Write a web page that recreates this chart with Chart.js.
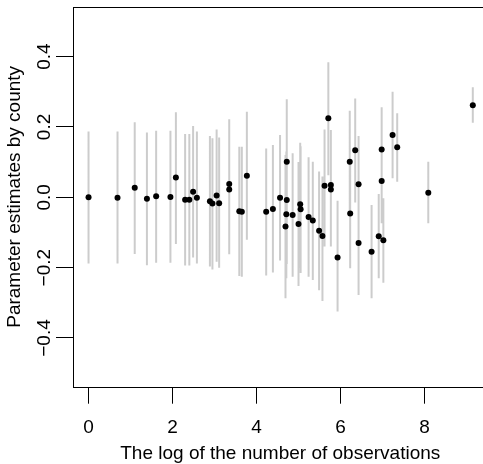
<!DOCTYPE html>
<html>
<head>
<meta charset="utf-8">
<script src="https://cdn.jsdelivr.net/npm/chart.js@4"></script>
<style>
  html, body { margin: 0; padding: 0; background: #fff; overflow: hidden; }
  #wrap { width: 483px; height: 464px; overflow: hidden; }
</style>
</head>
<body>
<div id="wrap"><canvas id="myChart" width="500" height="464"></canvas></div>
<script>
// log(n) per county, estimate, and the ends of its interval
const log_n = [0, 0.69, 1.10, 1.39, 1.61, 1.95, 2.08, 2.30, 2.40, 2.49, 2.58, 2.89, 2.95, 3.05, 3.11,
    3.35, 3.35, 3.59, 3.65, 3.77, 4.23, 4.39, 4.56, 4.72, 4.72, 4.71, 4.69, 4.86, 5.00, 5.04, 5.05,
    5.24, 5.34, 5.49, 5.57, 5.62, 5.71, 5.77, 5.77, 5.93, 6.22, 6.23, 6.35, 6.43, 6.43, 6.74, 6.91,
    6.98, 6.98, 7.02, 7.24, 7.35, 8.09, 9.15];
const estimate = [0.000, -0.001, 0.027, -0.004, 0.003, 0.001, 0.056, -0.007, -0.007, 0.016, -0.001, -0.011, -0.018, 0.005, -0.017,
    0.038, 0.022, -0.040, -0.041, 0.061, -0.041, -0.033, -0.001, 0.101, -0.008, -0.048, -0.083, -0.050, -0.076, -0.020, -0.034,
    -0.056, -0.066, -0.095, -0.110, 0.033, 0.225, 0.035, 0.022, -0.171, 0.101, -0.046, 0.134, 0.037, -0.130, -0.155, -0.111,
    0.136, 0.046, -0.122, 0.177, 0.142, 0.013, 0.262];
const lower = [-0.188, -0.188, -0.161, -0.193, -0.186, -0.186, -0.133, -0.194, -0.194, -0.171, -0.188, -0.197, -0.205, -0.183, -0.200,
    -0.152, -0.162, -0.224, -0.226, -0.121, -0.222, -0.214, -0.180, -0.080, -0.190, -0.230, -0.287, -0.226, -0.252, -0.200, -0.215,
    -0.226, -0.235, -0.264, -0.295, -0.140, 0.063, -0.120, -0.140, -0.325, -0.045, -0.202, -0.015, -0.100, -0.278, -0.287, -0.230,
    0.016, -0.074, -0.243, 0.054, 0.044, -0.074, 0.212];
const upper = [0.187, 0.187, 0.213, 0.184, 0.189, 0.189, 0.242, 0.180, 0.180, 0.203, 0.187, 0.174, 0.168, 0.193, 0.170,
    0.222, 0.206, 0.144, 0.144, 0.243, 0.139, 0.149, 0.177, 0.279, 0.170, 0.130, 0.120, 0.125, 0.100, 0.155, 0.145,
    0.114, 0.101, 0.073, 0.059, 0.193, 0.384, 0.191, 0.180, -0.010, 0.246, 0.100, 0.281, 0.174, 0.010, -0.022, 0.009,
    0.256, 0.170, -0.003, 0.300, 0.239, 0.101, 0.313];

const x_ticks = [0, 2, 4, 6, 8];
const y_ticks = [-0.4, -0.2, 0, 0.2, 0.4];
const y_tick_labels = ['\u22120.4', '\u22120.2', '0.0', '0.2', '0.4'];

const FONT = 'Liberation Sans, Arial, Helvetica, sans-serif';
const FONT_SIZE = 19;

let points = log_n.map((x, i) => ({x: x, y: estimate[i]}));
// each interval is one segment, separated by a gap
let segments = [];
for (let i = 0; i < log_n.length; i++) {
    segments.push({x: log_n[i], y: lower[i]}, {x: log_n[i], y: upper[i]}, {x: log_n[i], y: null});
}

const boxPlugin = {
    id: 'box',
    afterDraw(chart) {
        const ctx = chart.ctx;
        const a = chart.chartArea;
        ctx.save();
        ctx.strokeStyle = '#000';
        ctx.lineWidth = 1;
        ctx.strokeRect(Math.round(a.left) + 0.5, Math.round(a.top) + 0.5,
            Math.round(a.right - a.left), Math.round(a.bottom - a.top));
        // y tick labels run along the axis
        const ys = chart.scales.y;
        ctx.fillStyle = '#000';
        ctx.font = FONT_SIZE + 'px ' + FONT;
        ctx.textAlign = 'center';
        ctx.textBaseline = 'alphabetic';
        y_ticks.forEach((v, i) => {
            ctx.save();
            ctx.translate(50, ys.getPixelForValue(v));
            ctx.rotate(-Math.PI / 2);
            ctx.fillText(y_tick_labels[i], 0, 0);
            ctx.restore();
        });
        ctx.restore();
    }
};

const W = 500, H = 464;
const ctx = document.getElementById('myChart').getContext('2d');
const myChart = new Chart(ctx, {
    type: 'scatter',
    data: {
        datasets: [{
            data: points,
            backgroundColor: '#000',
            borderWidth: 0,
            pointRadius: 3,
            order: 0
        }, {
            data: segments,
            showLine: true,
            spanGaps: false,
            borderColor: '#cccccc',
            borderWidth: 2,
            pointRadius: 0,
            order: 1
        }]
    },
    options: {
        responsive: false,
        animation: false,
        devicePixelRatio: 1,
        layout: { padding: { top: 7, right: W - 487.5, left: 0, bottom: 0 } },
        plugins: { legend: { display: false }, tooltip: { enabled: false } },
        scales: {
            x: {
                type: 'linear',
                min: -0.37,
                max: 9.5,
                afterBuildTicks: (s) => { s.ticks = x_ticks.map(v => ({value: v})); },
                afterFit: (s) => { s.height = H - 386.7; },
                grid: { drawOnChartArea: false, drawTicks: true, tickLength: 17, color: '#000', lineWidth: 1 },
                border: { display: false },
                ticks: { color: '#000', font: { family: FONT, size: FONT_SIZE }, padding: 13, maxRotation: 0, autoSkip: false },
                title: {
                    display: true,
                    text: 'The log of the number of observations',
                    color: '#000',
                    font: { family: FONT, size: FONT_SIZE },
                    padding: { top: 0, bottom: -1 }
                }
            },
            y: {
                type: 'linear',
                min: -0.5385,
                max: 0.541,
                afterBuildTicks: (s) => { s.ticks = y_ticks.map(v => ({value: v})); },
                afterFit: (s) => { s.width = 73; },
                grid: { drawOnChartArea: false, drawTicks: true, tickLength: 17, color: '#000', lineWidth: 1 },
                border: { display: false },
                ticks: { display: false },
                title: {
                    display: true,
                    text: 'Parameter estimates by county',
                    color: '#000',
                    font: { family: FONT, size: FONT_SIZE },
                    padding: { top: 3, bottom: 0 }
                }
            }
        }
    },
    plugins: [boxPlugin]
});
</script>
</body>
</html>
